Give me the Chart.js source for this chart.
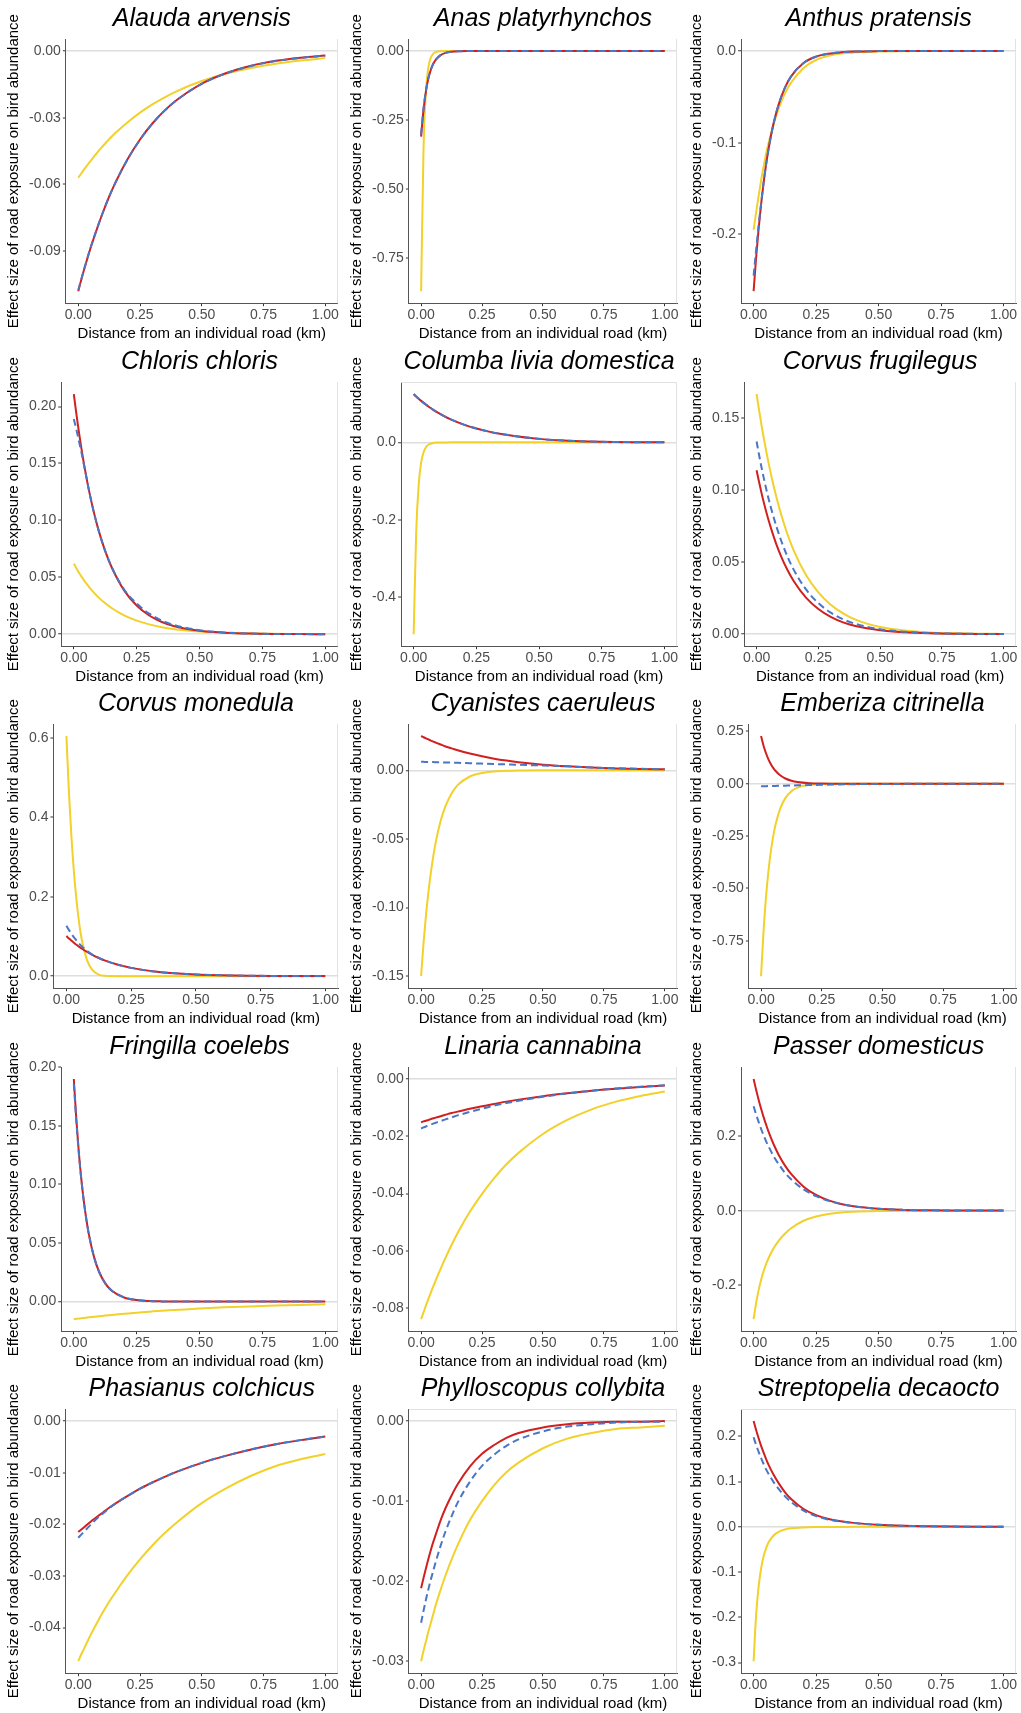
<!DOCTYPE html>
<html>
<head>
<meta charset="utf-8">
<title>Effect size of road exposure on bird abundance</title>
<script src="https://cdn.jsdelivr.net/npm/chart.js@4/dist/chart.umd.min.js"></script>
<style>
  html, body { margin: 0; padding: 0; background: #ffffff; }
  #grid { position: relative; width: 1021px; height: 1713px; overflow: hidden; background: #ffffff; }
  .cell { position: absolute; }
  .cell canvas { display: block; }
</style>
</head>
<body>
<div id="grid"></div>
<script>
// Distances (km) at which each fitted curve is sampled
const distanceKm = [0, 0.01, 0.02, 0.03, 0.04, 0.05, 0.06, 0.08, 0.1, 0.125, 0.15, 0.2, 0.25, 0.3, 0.35, 0.4, 0.5, 0.6, 0.7, 0.8, 0.9, 1];
const xTickValues = [0, 0.25, 0.5, 0.75, 1];

const speciesNames = [
  'Alauda arvensis', 'Anas platyrhynchos', 'Anthus pratensis',
  'Chloris chloris', 'Columba livia domestica', 'Corvus frugilegus',
  'Corvus monedula', 'Cyanistes caeruleus', 'Emberiza citrinella',
  'Fringilla coelebs', 'Linaria cannabina', 'Passer domesticus',
  'Phasianus colchicus', 'Phylloscopus collybita', 'Streptopelia decaocto'
];

// Alauda arvensis
const alaudaRed    = [-0.108, -0.1038, -0.0997, -0.0959, -0.0921, -0.0885, -0.0851, -0.0786, -0.0725, -0.0655, -0.0593, -0.0486, -0.0398, -0.0326, -0.0267, -0.0219, -0.0147, -0.0099, -0.0066, -0.0044, -0.003, -0.002];
const alaudaBlue   = [-0.1075, -0.1035, -0.0995, -0.0957, -0.092, -0.0884, -0.085, -0.0785, -0.0725, -0.0655, -0.0593, -0.0487, -0.0399, -0.0327, -0.0268, -0.022, -0.0148, -0.01, -0.0067, -0.0045, -0.0031, -0.0021];
const alaudaYellow = [-0.057, -0.0554, -0.0538, -0.0523, -0.0508, -0.0494, -0.048, -0.0452, -0.0427, -0.0397, -0.0369, -0.032, -0.0277, -0.024, -0.0208, -0.018, -0.0135, -0.0101, -0.0076, -0.0057, -0.0043, -0.0032];
const alaudaTicks  = [-0.09, -0.06, -0.03, 0];

// Anas platyrhynchos
const anasRed    = [-0.31, -0.212, -0.145, -0.099, -0.068, -0.046, -0.032, -0.015, -0.0069, -0.0027, -0.001, -0.0002, 0, 0, 0, 0, 0, 0, 0, 0, 0, 0];
const anasBlue   = [-0.302, -0.208, -0.143, -0.098, -0.067, -0.046, -0.032, -0.015, -0.0069, -0.0027, -0.001, -0.0002, 0, 0, 0, 0, 0, 0, 0, 0, 0, 0];
const anasYellow = [-0.87, -0.353, -0.144, -0.058, -0.024, -0.0097, -0.0039, -0.0006, -0.0001, 0, 0, 0, 0, 0, 0, 0, 0, 0, 0, 0, 0, 0];
const anasTicks  = [-0.75, -0.5, -0.25, 0];

// Anthus pratensis
const anthusRed    = [-0.262, -0.2255, -0.194, -0.167, -0.1437, -0.1237, -0.1065, -0.0789, -0.0585, -0.0402, -0.0276, -0.013, -0.0061, -0.0029, -0.0014, -0.0006, -0.0001, 0, 0, 0, 0, 0];
const anthusBlue   = [-0.245, -0.217, -0.19, -0.166, -0.1435, -0.1237, -0.1065, -0.0789, -0.0585, -0.0402, -0.0276, -0.013, -0.0061, -0.0029, -0.0014, -0.0006, -0.0001, 0, 0, 0, 0, 0];
const anthusYellow = [-0.195, -0.176, -0.158, -0.141, -0.126, -0.112, -0.1, -0.08, -0.063, -0.0465, -0.0345, -0.0185, -0.0098, -0.0052, -0.0028, -0.0015, -0.0005, -0.0002, -0.0001, 0, 0, 0];
const anthusTicks  = [-0.2, -0.1, 0];

// Chloris chloris
const chlorisRed    = [0.211, 0.1938, 0.178, 0.1635, 0.15, 0.138, 0.1266, 0.1068, 0.0901, 0.0729, 0.059, 0.0385, 0.0252, 0.0164, 0.0107, 0.007, 0.003, 0.0013, 0.0005, 0.0002, 0.0001, 0];
const chlorisBlue   = [0.189, 0.18, 0.17, 0.16, 0.149, 0.138, 0.1266, 0.1068, 0.0901, 0.0729, 0.0592, 0.0392, 0.027, 0.018, 0.012, 0.008, 0.0035, 0.0015, 0.0006, 0.0002, 0.0001, 0];
const chlorisYellow = [0.062, 0.058, 0.0542, 0.0508, 0.0475, 0.0445, 0.0416, 0.0365, 0.0319, 0.0271, 0.023, 0.0165, 0.0119, 0.0086, 0.0061, 0.0044, 0.0023, 0.0012, 0.0006, 0.0003, 0.0002, 0.0001];
const chlorisTicks  = [0, 0.05, 0.1, 0.15, 0.2];

// Columba livia domestica
const columbaRed    = [0.1245, 0.1184, 0.1127, 0.1072, 0.102, 0.097, 0.0922, 0.0834, 0.0755, 0.0666, 0.0588, 0.0458, 0.0357, 0.0278, 0.0216, 0.0165, 0.009, 0.0045, 0.0022, 0.001, 0.0005, 0.0002];
const columbaBlue   = [0.125, 0.1188, 0.113, 0.1074, 0.1021, 0.0971, 0.0923, 0.0835, 0.0755, 0.0666, 0.0588, 0.0458, 0.0357, 0.0278, 0.0216, 0.0166, 0.0091, 0.0046, 0.0022, 0.001, 0.0005, 0.0002];
const columbaYellow = [-0.496, -0.234, -0.11, -0.052, -0.0247, -0.0117, -0.0055, -0.0012, -0.0003, -0.0001, 0, 0, 0, 0, 0, 0, 0, 0, 0, 0, 0, 0];
const columbaTicks  = [-0.4, -0.2, 0];

// Corvus frugilegus
const frugilegusRed    = [0.114, 0.1058, 0.0981, 0.091, 0.0844, 0.0783, 0.0727, 0.0625, 0.0538, 0.0446, 0.037, 0.0254, 0.0175, 0.012, 0.0082, 0.0057, 0.0027, 0.0013, 0.0006, 0.0003, 0.0001, 0.0001];
const frugilegusBlue   = [0.134, 0.1246, 0.1159, 0.1078, 0.1002, 0.0932, 0.0867, 0.075, 0.0648, 0.0539, 0.0449, 0.0311, 0.0216, 0.015, 0.0104, 0.0072, 0.0035, 0.0017, 0.0008, 0.0004, 0.0002, 0.0001];
const frugilegusYellow = [0.167, 0.1557, 0.1452, 0.1354, 0.1262, 0.1177, 0.1097, 0.0954, 0.0829, 0.0695, 0.0583, 0.0411, 0.029, 0.0204, 0.0144, 0.0101, 0.005, 0.0025, 0.0012, 0.0006, 0.0003, 0.0002];
const frugilegusTicks  = [0, 0.05, 0.1, 0.15];

// Corvus monedula
const monedulaRed    = [0.101, 0.0948, 0.0891, 0.0836, 0.0785, 0.0737, 0.0692, 0.061, 0.0538, 0.0459, 0.0392, 0.0286, 0.0209, 0.0153, 0.0111, 0.0081, 0.0043, 0.0023, 0.0012, 0.0006, 0.0003, 0.0002];
const monedulaBlue   = [0.127, 0.116, 0.106, 0.097, 0.089, 0.0815, 0.075, 0.0635, 0.0545, 0.0462, 0.0393, 0.0286, 0.0209, 0.0153, 0.0111, 0.0081, 0.0043, 0.0023, 0.0012, 0.0006, 0.0003, 0.0002];
const monedulaYellow = [0.605, 0.46, 0.345, 0.255, 0.185, 0.13, 0.09, 0.04, 0.016, 0.004, 0.001, 0.0001, 0, 0, 0, 0, 0, 0, 0, 0, 0, 0];
const monedulaTicks  = [0, 0.2, 0.4, 0.6];

// Cyanistes caeruleus
const cyanistesRed    = [0.025, 0.0241, 0.0233, 0.0225, 0.0217, 0.0209, 0.0202, 0.0188, 0.0174, 0.016, 0.0146, 0.0122, 0.0102, 0.0085, 0.0071, 0.0059, 0.0041, 0.0029, 0.002, 0.0014, 0.001, 0.0007];
const cyanistesBlue   = [0.0062, 0.0062, 0.0061, 0.0061, 0.006, 0.006, 0.0059, 0.0058, 0.0057, 0.0056, 0.0055, 0.0052, 0.0049, 0.0046, 0.0043, 0.004, 0.0035, 0.0029, 0.0021, 0.0015, 0.0011, 0.0008];
const cyanistesYellow = [-0.15, -0.1259, -0.1057, -0.0887, -0.0745, -0.0625, -0.0525, -0.037, -0.0261, -0.0168, -0.0108, -0.0045, -0.0019, -0.0008, -0.0003, -0.0001, 0, 0, 0, 0, 0, 0];
const cyanistesTicks  = [-0.15, -0.1, -0.05, 0];

// Emberiza citrinella
const emberizaRed    = [0.228, 0.183, 0.147, 0.118, 0.0946, 0.0759, 0.0609, 0.0392, 0.0252, 0.0146, 0.0084, 0.0028, 0.0009, 0.0003, 0.0001, 0, 0, 0, 0, 0, 0, 0];
const emberizaBlue   = [-0.012, -0.0117, -0.0114, -0.0111, -0.0108, -0.0105, -0.0102, -0.0096, -0.009, -0.0082, -0.0075, -0.0062, -0.0048, -0.0035, -0.0025, -0.0018, -0.0009, -0.0005, -0.0002, -0.0001, 0, 0];
const emberizaYellow = [-0.919, -0.709, -0.547, -0.422, -0.325, -0.251, -0.193, -0.115, -0.0685, -0.0355, -0.0186, -0.0051, -0.0014, -0.0004, -0.0001, 0, 0, 0, 0, 0, 0, 0];
const emberizaTicks  = [-0.75, -0.5, -0.25, 0, 0.25];

// Fringilla coelebs
const fringillaRed    = [0.19, 0.1556, 0.1273, 0.1042, 0.0854, 0.0699, 0.0572, 0.0384, 0.0257, 0.0156, 0.0095, 0.0035, 0.0013, 0.0005, 0.0002, 0.0001, 0, 0, 0, 0, 0, 0];
const fringillaBlue   = [0.186, 0.154, 0.1265, 0.1038, 0.0852, 0.0698, 0.0572, 0.0384, 0.0257, 0.0156, 0.0095, 0.0035, 0.0013, 0.0005, 0.0002, 0.0001, 0, 0, 0, 0, 0, 0];
const fringillaYellow = [-0.015, -0.0147, -0.0145, -0.0142, -0.0139, -0.0137, -0.0134, -0.0129, -0.0125, -0.0119, -0.0114, -0.0104, -0.0094, -0.0086, -0.0078, -0.0072, -0.0059, -0.0049, -0.0041, -0.0034, -0.0028, -0.0023];
const fringillaTicks  = [0, 0.05, 0.1, 0.15, 0.2];

// Linaria cannabina
const linariaRed    = [-0.0151, -0.0148, -0.0146, -0.0143, -0.014, -0.0137, -0.0135, -0.013, -0.0125, -0.0119, -0.0114, -0.0104, -0.0095, -0.0087, -0.0079, -0.0072, -0.006, -0.005, -0.0041, -0.0034, -0.0028, -0.0023];
const linariaBlue   = [-0.0173, -0.0169, -0.0166, -0.0162, -0.0159, -0.0156, -0.0153, -0.0147, -0.0141, -0.0134, -0.0127, -0.0115, -0.0104, -0.0093, -0.0084, -0.0076, -0.0062, -0.005, -0.0041, -0.0033, -0.0027, -0.0022];
const linariaYellow = [-0.0839, -0.0815, -0.0791, -0.0768, -0.0746, -0.0724, -0.0703, -0.0663, -0.0625, -0.058, -0.0538, -0.0464, -0.0401, -0.0346, -0.0298, -0.0258, -0.0192, -0.0143, -0.0106, -0.0079, -0.0059, -0.0044];
const linariaTicks  = [-0.08, -0.06, -0.04, -0.02, 0];

// Passer domesticus
const passerRed    = [0.353, 0.324, 0.2977, 0.2732, 0.2508, 0.2303, 0.2114, 0.1781, 0.1501, 0.1215, 0.0984, 0.0644, 0.0422, 0.0276, 0.018, 0.0118, 0.005, 0.0021, 0.0009, 0.0004, 0.0002, 0.0001];
const passerBlue   = [0.28, 0.258, 0.238, 0.219, 0.202, 0.186, 0.172, 0.146, 0.125, 0.102, 0.084, 0.057, 0.039, 0.0262, 0.0175, 0.0117, 0.005, 0.0021, 0.0009, 0.0004, 0.0002, 0.0001];
const passerYellow = [-0.291, -0.248, -0.213, -0.185, -0.162, -0.143, -0.127, -0.101, -0.081, -0.062, -0.047, -0.027, -0.0155, -0.0088, -0.005, -0.0028, -0.0009, -0.0003, -0.0001, 0, 0, 0];
const passerTicks  = [-0.2, 0, 0.2];

// Phasianus colchicus
const phasianusRed    = [-0.0215, -0.0211, -0.0207, -0.0203, -0.0199, -0.0195, -0.0191, -0.0184, -0.0177, -0.0168, -0.016, -0.0145, -0.0131, -0.0119, -0.0108, -0.0098, -0.0081, -0.0067, -0.0055, -0.0045, -0.0037, -0.003];
const phasianusBlue   = [-0.0226, -0.0221, -0.0216, -0.0211, -0.0206, -0.0201, -0.0196, -0.0187, -0.0179, -0.0169, -0.016, -0.0145, -0.0131, -0.0119, -0.0108, -0.0098, -0.0081, -0.0067, -0.0055, -0.0045, -0.0037, -0.003];
const phasianusYellow = [-0.0465, -0.0454, -0.0444, -0.0434, -0.0424, -0.0414, -0.0405, -0.0387, -0.037, -0.035, -0.0332, -0.0298, -0.0268, -0.0241, -0.0217, -0.0196, -0.0159, -0.013, -0.0106, -0.0087, -0.0074, -0.0064];
const phasianusTicks  = [-0.04, -0.03, -0.02, -0.01, 0];

// Phylloscopus collybita
const phylloscopusRed    = [-0.0209, -0.0196, -0.0184, -0.0172, -0.0161, -0.0151, -0.0142, -0.0124, -0.0109, -0.0093, -0.0079, -0.0057, -0.0041, -0.003, -0.0021, -0.0015, -0.0008, -0.0004, -0.0002, -0.0001, -0.0001, 0];
const phylloscopusBlue   = [-0.0252, -0.0237, -0.0223, -0.021, -0.0198, -0.0187, -0.0176, -0.0156, -0.0138, -0.0119, -0.0102, -0.0076, -0.0056, -0.0042, -0.0031, -0.0023, -0.0013, -0.0007, -0.0004, -0.0002, -0.0001, -0.0001];
const phylloscopusYellow = [-0.03, -0.0287, -0.0275, -0.0263, -0.0252, -0.0241, -0.023, -0.0211, -0.0193, -0.0173, -0.0155, -0.0124, -0.01, -0.008, -0.0064, -0.0052, -0.0034, -0.0022, -0.0015, -0.001, -0.0008, -0.0006];
const phylloscopusTicks  = [-0.03, -0.02, -0.01, 0];

// Streptopelia decaocto
const streptopeliaRed    = [0.234, 0.214, 0.196, 0.179, 0.164, 0.15, 0.137, 0.115, 0.0966, 0.077, 0.0615, 0.0395, 0.026, 0.0175, 0.0125, 0.0088, 0.0045, 0.0023, 0.0012, 0.0006, 0.0003, 0.0002];
const streptopeliaBlue   = [0.198, 0.181, 0.166, 0.152, 0.139, 0.127, 0.117, 0.099, 0.084, 0.068, 0.055, 0.036, 0.0238, 0.0162, 0.0118, 0.0085, 0.0045, 0.0023, 0.0012, 0.0006, 0.0003, 0.0002];
const streptopeliaYellow = [-0.297, -0.195, -0.132, -0.092, -0.065, -0.047, -0.034, -0.019, -0.011, -0.0058, -0.0033, -0.0013, -0.0005, -0.0002, -0.0001, 0, 0, 0, 0, 0, 0, 0];
const streptopeliaTicks  = [-0.3, -0.2, -0.1, 0, 0.1, 0.2];

// Per-panel series, y ticks and decimal places (in species order)
const redSeries = [alaudaRed, anasRed, anthusRed, chlorisRed, columbaRed, frugilegusRed, monedulaRed, cyanistesRed, emberizaRed, fringillaRed, linariaRed, passerRed, phasianusRed, phylloscopusRed, streptopeliaRed];
const blueSeries = [alaudaBlue, anasBlue, anthusBlue, chlorisBlue, columbaBlue, frugilegusBlue, monedulaBlue, cyanistesBlue, emberizaBlue, fringillaBlue, linariaBlue, passerBlue, phasianusBlue, phylloscopusBlue, streptopeliaBlue];
const yellowSeries = [alaudaYellow, anasYellow, anthusYellow, chlorisYellow, columbaYellow, frugilegusYellow, monedulaYellow, cyanistesYellow, emberizaYellow, fringillaYellow, linariaYellow, passerYellow, phasianusYellow, phylloscopusYellow, streptopeliaYellow];
const yTicks = [alaudaTicks, anasTicks, anthusTicks, chlorisTicks, columbaTicks, frugilegusTicks, monedulaTicks, cyanistesTicks, emberizaTicks, fringillaTicks, linariaTicks, passerTicks, phasianusTicks, phylloscopusTicks, streptopeliaTicks];
const yDecimals = [2, 2, 1, 2, 1, 2, 1, 2, 2, 2, 2, 1, 2, 2, 1];

// Page layout of the 5 x 3 grid
const colLeft = [0, 340, 680];
const colWidth = [340, 340, 341];
const rowTop = [0, 343, 685, 1028, 1370];
const cellHeight = 343;
const padLeft = [3, 6, 6];
const padRight = [1, 3, 5];
const framedTop = [4, 13, 14];

const RED = '#d0201f';
const BLUE = '#4a76c6';
const YELLOW = '#f1d12a';
const ZERO_LINE = '#dedede';
const FRAME = '#e2e2e2';
const AXIS = '#555555';
const TICK_TEXT = '#4d4d4d';
const FONT = '"Liberation Sans", Arial, Helvetica, sans-serif';

Chart.defaults.font.family = FONT;

// Light frame on the right (and sometimes top) edge of the plotting panel
const panelFrame = {
  id: 'panelFrame',
  beforeDatasetsDraw(chart, args, opts) {
    const a = chart.chartArea;
    const ctx = chart.ctx;
    ctx.save();
    ctx.strokeStyle = opts.color;
    ctx.lineWidth = 1;
    ctx.beginPath();
    ctx.moveTo(Math.round(a.right) - 0.5, a.top);
    ctx.lineTo(Math.round(a.right) - 0.5, a.bottom);
    if (opts.top) {
      ctx.moveTo(a.left, Math.round(a.top) + 0.5);
      ctx.lineTo(a.right, Math.round(a.top) + 0.5);
    }
    ctx.stroke();
    ctx.restore();
  }
};

function toPoints(values) {
  return distanceKm.map((d, i) => ({ x: d, y: values[i] }));
}

function paddedRange(seriesList) {
  let lo = 0, hi = 0;
  seriesList.forEach(s => s.forEach(v => { lo = Math.min(lo, v); hi = Math.max(hi, v); }));
  const pad = (hi - lo) * 0.05;
  return { min: lo - pad, max: hi + pad };
}

const grid = document.getElementById('grid');

speciesNames.forEach((name, i) => {
  const row = Math.floor(i / 3);
  const col = i % 3;
  const cell = document.createElement('div');
  cell.className = 'cell';
  cell.style.left = colLeft[col] + 'px';
  cell.style.top = rowTop[row] + 'px';
  cell.style.width = colWidth[col] + 'px';
  cell.style.height = cellHeight + 'px';
  const canvas = document.createElement('canvas');
  canvas.width = colWidth[col];
  canvas.height = cellHeight;
  cell.appendChild(canvas);
  grid.appendChild(cell);

  const red = redSeries[i], blue = blueSeries[i], yellow = yellowSeries[i];
  const range = paddedRange([red, blue, yellow]);
  const ticks = yTicks[i];
  const dec = yDecimals[i];

  new Chart(canvas, {
    type: 'line',
    data: {
      datasets: [
        { data: toPoints(blue), borderColor: BLUE, borderWidth: 2, borderDash: [7, 4], cubicInterpolationMode: 'monotone', pointRadius: 0, fill: false },
        { data: toPoints(red), borderColor: RED, borderWidth: 2, cubicInterpolationMode: 'monotone', pointRadius: 0, fill: false },
        { data: toPoints(yellow), borderColor: YELLOW, borderWidth: 2, cubicInterpolationMode: 'monotone', pointRadius: 0, fill: false }
      ]
    },
    options: {
      responsive: false,
      animation: false,
      devicePixelRatio: 1,
      layout: { padding: { left: padLeft[col], right: padRight[col], top: 0, bottom: 0 } },
      plugins: {
        legend: { display: false },
        tooltip: { enabled: false },
        title: {
          display: true,
          fullSize: false,
          text: name,
          color: '#000000',
          font: { family: FONT, size: 25, style: 'italic', weight: 'normal' },
          padding: { top: 4, bottom: 5 }
        },
        panelFrame: { color: FRAME, top: framedTop.includes(i) }
      },
      scales: {
        x: {
          type: 'linear',
          min: -0.05,
          max: 1.05,
          afterBuildTicks: axis => { axis.ticks = xTickValues.map(v => ({ value: v })); },
          ticks: {
            callback: v => Number(v).toFixed(2),
            color: TICK_TEXT,
            font: { family: FONT, size: 14 },
            padding: 1,
            maxRotation: 0,
            autoSkip: false
          },
          grid: { drawOnChartArea: false, tickLength: 3, tickColor: '#333333', tickWidth: 1 },
          border: { display: true, color: AXIS, width: 1 },
          title: {
            display: true,
            text: 'Distance from an individual road (km)',
            color: '#000000',
            font: { family: FONT, size: 15 },
            padding: { top: 0, bottom: 0 }
          }
        },
        y: {
          type: 'linear',
          min: range.min,
          max: range.max,
          afterBuildTicks: axis => { axis.ticks = ticks.map(v => ({ value: v })); },
          ticks: {
            callback: v => Number(v).toFixed(dec),
            color: TICK_TEXT,
            font: { family: FONT, size: 14 },
            padding: 2,
            autoSkip: false
          },
          grid: {
            color: ctx => (ctx.tick && ctx.tick.value === 0) ? ZERO_LINE : 'rgba(0,0,0,0)',
            lineWidth: ctx => (ctx.tick && ctx.tick.value === 0) ? 1.5 : 0,
            tickLength: 3,
            tickColor: '#333333',
            tickWidth: 1
          },
          border: { display: true, color: AXIS, width: 1 },
          title: {
            display: true,
            text: 'Effect size of road exposure on bird abundance',
            color: '#000000',
            font: { family: FONT, size: 15 },
            padding: { top: 2, bottom: 4 }
          }
        }
      }
    },
    plugins: [panelFrame]
  });
});
</script>
</body>
</html>
